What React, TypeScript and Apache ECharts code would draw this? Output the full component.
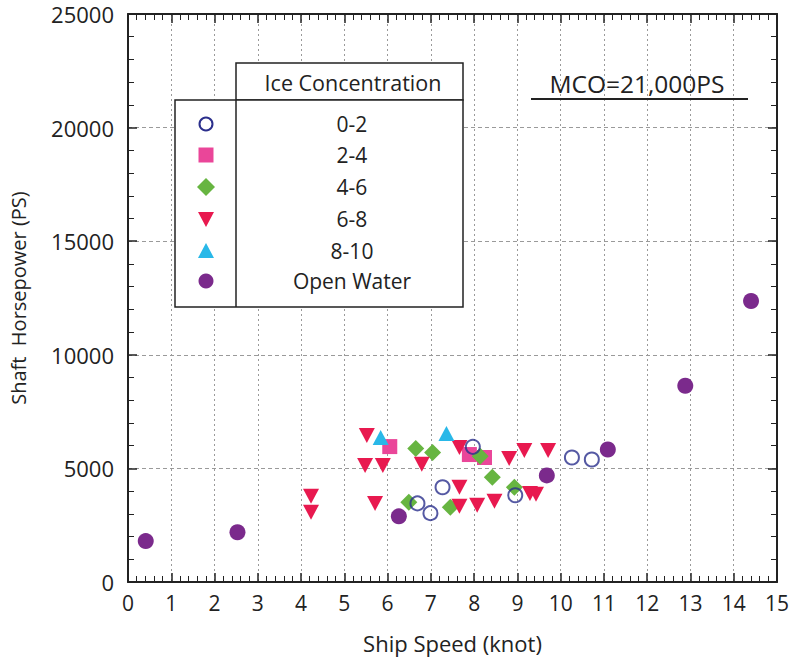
import React, { useEffect, useRef } from "react";
import * as echarts from "echarts";

const seriesNames = ["0-2", "2-4", "4-6", "6-8", "8-10", "Open Water"];

const ice02: number[][] = [
  [7.97, 5950], [7.27, 4170], [6.69, 3460], [6.99, 3030], [8.95, 3820], [10.26, 5480], [10.72, 5390],
];
const ice24: number[][] = [
  [6.05, 5960], [7.89, 5610], [8.24, 5480],
];
const ice46: number[][] = [
  [6.65, 5880], [7.04, 5700], [8.14, 5530], [8.42, 4610], [8.93, 4170], [6.49, 3510], [7.45, 3290],
];
const ice68: number[][] = [
  [5.52, 6450], [5.48, 5130], [5.89, 5130], [6.79, 5180], [7.66, 5920], [8.81, 5440], [9.16, 5790],
  [9.71, 5790], [7.66, 4170], [9.29, 3900], [9.43, 3860], [5.71, 3460], [7.66, 3330], [8.07, 3380],
  [8.47, 3550], [4.23, 3770], [4.23, 3070],
];
const ice810: number[][] = [
  [5.84, 6360], [7.36, 6540],
];
const openWater: number[][] = [
  [0.41, 1800], [2.53, 2190], [6.26, 2890], [9.68, 4690], [11.09, 5830], [12.88, 8640], [14.4, 12370],
];

const xTitle = "Ship Speed (knot)";
const yTitle = "Shaft  Horsepower (PS)";
const legendTitle = "Ice Concentration";
const mcoText = "MCO=21,000PS";

const NAVY = "#2b2f8c";
const PINK = "#ea4699";
const GREEN = "#67b541";
const RED = "#e8194f";
const CYAN = "#29b8e8";
const PURPLE = "#7b2a8c";
const FONT = "'Open Sans', 'Noto Sans', sans-serif";

export default function App() {
  const ref = useRef<HTMLDivElement>(null);
  useEffect(() => {
    if (!ref.current) return;
    const chart = echarts.init(ref.current, null, { renderer: "svg" });
    const axisBase = {
      type: "value" as const,
      axisLine: { show: true, onZero: false, lineStyle: { color: "#222", width: 2 } },
      axisTick: { show: true, inside: true, length: 9, lineStyle: { color: "#222", width: 1.5 } },
      minorTick: { show: true, splitNumber: 5, length: 6, lineStyle: { color: "#222", width: 1 } },
    };
    const legendY = [124, 155, 187, 219, 251, 281];
    const lx = 206;
    const legendItems: any[] = [
      { type: "rect", shape: { x: 236, y: 63, width: 227, height: 37 }, style: { fill: "#fff", stroke: "#222", lineWidth: 1.5 } },
      { type: "rect", shape: { x: 175, y: 100, width: 288, height: 207 }, style: { fill: "#fff", stroke: "#222", lineWidth: 1.5 } },
      { type: "line", shape: { x1: 236, y1: 100, x2: 236, y2: 307 }, style: { stroke: "#222", lineWidth: 1.5 } },
      { type: "text", x: 353, y: 82, style: { text: legendTitle, align: "center", verticalAlign: "middle", fontSize: 21.5, fontFamily: FONT, fill: "#222" } },
      { type: "circle", shape: { cx: lx, cy: legendY[0], r: 6.5 }, style: { fill: "#fff", stroke: NAVY, lineWidth: 2 } },
      { type: "rect", shape: { x: lx - 7.5, y: legendY[1] - 7.5, width: 15, height: 15 }, style: { fill: PINK } },
      { type: "polygon", shape: { points: [[lx, legendY[2] - 9], [lx + 9, legendY[2]], [lx, legendY[2] + 9], [lx - 9, legendY[2]]] }, style: { fill: GREEN } },
      { type: "polygon", shape: { points: [[lx - 8, legendY[3] - 7], [lx + 8, legendY[3] - 7], [lx, legendY[3] + 8]] }, style: { fill: RED } },
      { type: "polygon", shape: { points: [[lx, legendY[4] - 8], [lx + 8, legendY[4] + 7], [lx - 8, legendY[4] + 7]] }, style: { fill: CYAN } },
      { type: "circle", shape: { cx: lx, cy: legendY[5], r: 7.5 }, style: { fill: PURPLE } },
      ...seriesNames.map((n, i) => ({
        type: "text", x: 352, y: legendY[i], style: { text: n, align: "center", verticalAlign: "middle", fontSize: 21, fontFamily: FONT, fill: "#222" },
      })),
      { type: "text", x: 637, y: 83, style: { text: mcoText, align: "center", verticalAlign: "middle", fontSize: 24.5, fontFamily: FONT, fill: "#222" } },
      { type: "line", shape: { x1: 531, y1: 99, x2: 748, y2: 99 }, style: { stroke: "#222", lineWidth: 2 } },
    ];
    chart.setOption({
      animation: false,
      backgroundColor: "#fff",
      textStyle: { fontFamily: FONT },
      grid: { left: 125, top: 12, right: 16, bottom: 81, containLabel: false },
      xAxis: [
        {
          ...axisBase,
          position: "bottom",
          min: 0, max: 15, interval: 1,
          axisLabel: { show: true, color: "#222", fontSize: 21, margin: 10, fontFamily: FONT },
          splitLine: { show: true, lineStyle: { color: "#9a9a9a", type: [2, 3], width: 1 } },
          name: xTitle, nameLocation: "middle", nameGap: 50,
          nameTextStyle: { fontSize: 22, color: "#222", fontFamily: FONT },
        },
        {
          ...axisBase,
          position: "top",
          min: 0, max: 15, interval: 1,
          axisLabel: { show: false },
          splitLine: { show: false },
        },
      ],
      yAxis: [
        {
          ...axisBase,
          position: "left",
          min: 0, max: 25000, interval: 5000,
          axisLabel: { show: true, color: "#222", fontSize: 22, lineHeight: 22, padding: [6, 0, 0, 0], margin: 14, fontFamily: FONT, formatter: (v: number) => String(v) },
          splitLine: { show: true, lineStyle: { color: "#9a9a9a", type: [4, 3], width: 1 } },
          name: yTitle, nameLocation: "middle", nameGap: 100, nameRotate: 90,
          nameTextStyle: { fontSize: 20, color: "#222", fontFamily: FONT },
        },
        {
          ...axisBase,
          position: "right",
          min: 0, max: 25000, interval: 5000,
          axisLabel: { show: false },
          splitLine: { show: false },
        },
      ],
      series: [
        { name: seriesNames[0], type: "scatter", data: ice02, symbol: "circle", symbolSize: 14, itemStyle: { color: "rgba(255,255,255,0)", borderColor: NAVY, borderWidth: 2 }, z: 6 },
        { name: seriesNames[1], type: "scatter", data: ice24, symbol: "rect", symbolSize: 15, itemStyle: { color: PINK, opacity: 1 } },
        { name: seriesNames[2], type: "scatter", data: ice46, symbol: "diamond", symbolSize: 17, itemStyle: { color: GREEN, opacity: 1 } },
        { name: seriesNames[3], type: "scatter", data: ice68, symbol: "triangle", symbolRotate: 180, symbolSize: [16, 15], itemStyle: { color: RED, opacity: 1 } },
        { name: seriesNames[4], type: "scatter", data: ice810, symbol: "triangle", symbolSize: [16, 15], itemStyle: { color: CYAN, opacity: 1 } },
        { name: seriesNames[5], type: "scatter", data: openWater, symbol: "circle", symbolSize: 16, itemStyle: { color: PURPLE, opacity: 1 } },
      ],
      graphic: { elements: legendItems.map((e) => ({ ...e, z: 100 })) },
    });
    return () => chart.dispose();
  }, []);
  return <div ref={ref} style={{ position: "fixed", left: 0, top: 0, width: 793, height: 663 }} />;
}
